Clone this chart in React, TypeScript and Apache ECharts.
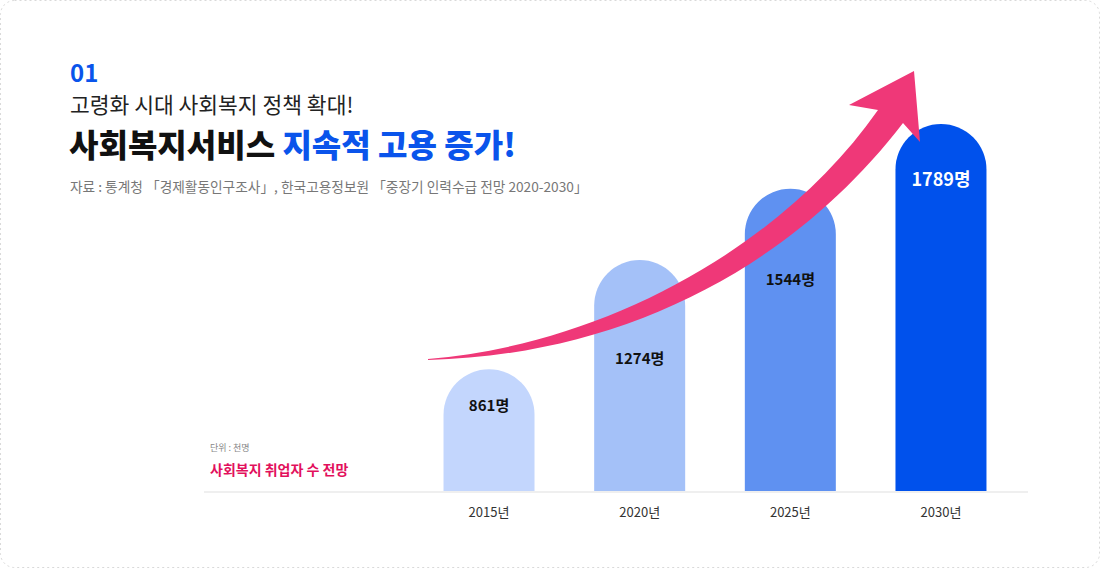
import React, { useEffect, useRef } from 'react';
import * as echarts from 'echarts';

const categories = ['2015년', '2020년', '2025년', '2030년'];
const values = [861, 1274, 1544, 1789];
const unit = '명';
const barColors = ['#c3d6fd', '#a4c1f8', '#5f91f1', '#0051ec'];

const headline = '01';
const subTitle = '고령화 시대 사회복지 정책 확대!';
const titleA = '사회복지서비스';
const titleB = '지속적 고용 증가!';
const source = '자료 : 통계청 「경제활동인구조사」, 한국고용정보원 「중장기 인력수급 전망 2020-2030」';
const unitNote = '단위 : 천명';
const chartName = '사회복지 취업자 수 전망';

const ARROW_D =
  'M428,359 C600,345 780,250 878,110 L849,105 L914,71 L920,142 L903,123 C790,270 620,355 428,360 Z';

let registered = false;
function ensureShape() {
  if (registered) return;
  echarts.graphic.registerShape('growArrow', echarts.graphic.extendPath(ARROW_D, {}) as any);
  registered = true;
}

const FONT = '"Noto Sans CJK KR", "Noto Sans", sans-serif';
const labelDistances = [28, 90, 82, 45];

export default function App() {
  const ref = useRef<HTMLDivElement>(null);
  useEffect(() => {
    document.body.style.margin = '0';
    ensureShape();
    const chart = echarts.init(ref.current!, undefined, { renderer: 'svg' });
    const option: any = {
      animation: false,
      backgroundColor: '#ffffff',
      textStyle: { fontFamily: FONT },
      grid: { left: 413.7, right: 83.7, top: 124, bottom: 77 },
      xAxis: {
        type: 'category',
        data: categories,
        axisLine: { show: false },
        axisTick: { show: false },
        axisLabel: { color: '#333333', fontSize: 13, margin: 14, fontFamily: FONT },
      },
      yAxis: {
        type: 'value',
        min: 400,
        max: 1789,
        show: false,
        splitLine: { show: false },
      },
      series: [
        {
          type: 'bar',
          barWidth: 91,
          z: 3,
          data: values.map((v, i) => ({
            value: v,
            itemStyle: { color: barColors[i], borderRadius: [45.5, 45.5, 0, 0] },
            label: {
              show: true,
              position: 'insideTop',
              distance: labelDistances[i],
              formatter: `${v}${unit}`,
              color: i === 3 ? '#ffffff' : '#111111',
              fontSize: i === 3 ? 18 : 15,
              fontWeight: 'bold',
              fontFamily: FONT,
            },
          })),
        },
      ],
      graphic: [
        {
          type: 'rect',
          shape: { x: 0.5, y: 0.5, width: 1099, height: 567, r: 14 },
          style: { fill: 'none', stroke: '#d9d9d9', lineWidth: 1, lineDash: [2, 3] },
          z: 0,
          silent: true,
        },
        {
          type: 'line',
          shape: { x1: 204, y1: 492, x2: 1028, y2: 492 },
          style: { stroke: '#efefef', lineWidth: 2 },
          z: 1,
        },
        {
          type: 'text',
          x: 70,
          y: 71,
          style: {
            text: headline,
            fill: '#0a54eb',
            font: `bold 24px ${FONT}`,
            verticalAlign: 'middle',
          },
        },
        {
          type: 'text',
          x: 70,
          y: 103,
          style: {
            text: subTitle,
            fill: '#222222',
            font: `21.5px ${FONT}`,
            verticalAlign: 'middle',
          },
        },
        {
          type: 'text',
          x: 69,
          y: 143,
          style: {
            text: `{a|${titleA}} {b|${titleB}}`,
            verticalAlign: 'middle',
            font: `900 32px ${FONT}`,
            rich: {
              a: { fill: '#111111', font: `900 32px ${FONT}` },
              b: { fill: '#0a54eb', font: `900 32px ${FONT}` },
            },
          },
        },
        {
          type: 'text',
          x: 70,
          y: 186,
          style: {
            text: source,
            fill: '#777777',
            font: `13.7px ${FONT}`,
            verticalAlign: 'middle',
          },
        },
        {
          type: 'text',
          x: 210,
          y: 447,
          style: {
            text: unitNote,
            fill: '#888888',
            font: `9px ${FONT}`,
            verticalAlign: 'middle',
          },
        },
        {
          type: 'text',
          x: 210,
          y: 469,
          style: {
            text: chartName,
            fill: '#e2105c',
            font: `bold 14px ${FONT}`,
            verticalAlign: 'middle',
          },
        },
        {
          type: 'growArrow',
          x: 0,
          y: 0,
          scaleX: 1,
          scaleY: 1,
          z: 100,
          style: { fill: '#ef3878' },
        },
      ],
    };
    chart.setOption(option);
    return () => chart.dispose();
  }, []);
  return <div ref={ref} style={{ width: 1100, height: 568 }} />;
}
